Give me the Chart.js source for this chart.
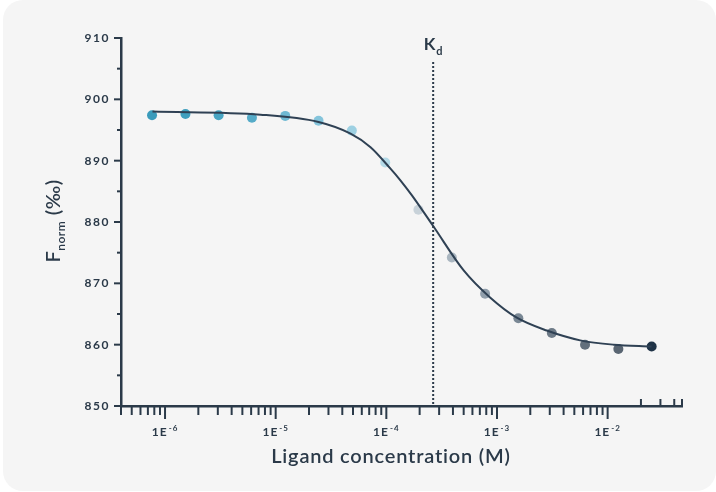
<!DOCTYPE html>
<html>
<head>
<meta charset="utf-8">
<script src="https://cdn.jsdelivr.net/npm/chart.js@4/dist/chart.umd.min.js"></script>
<style>
  html, body { margin: 0; padding: 0; background: #ffffff; }
  #wrap { width: 716px; height: 492px; }
</style>
</head>
<body>
<div id="wrap"><canvas id="kdChart" width="716" height="492"></canvas></div>
<script>
// measured points (2-fold dilution series)
var concentrations = [7.63e-7, 1.53e-6, 3.05e-6, 6.10e-6, 1.22e-5, 2.44e-5, 4.88e-5, 9.77e-5,
  1.95e-4, 3.91e-4, 7.81e-4, 1.56e-3, 3.13e-3, 6.25e-3, 1.25e-2, 2.50e-2];
var fnormValues = [897.4, 897.6, 897.4, 897.0, 897.3, 896.5, 894.9, 889.7,
  882.0, 874.2, 868.3, 864.3, 861.9, 860.0, 859.3, 859.7];

// fitted curve
var fitConcentrations = [7.7e-7, 7.3e-6, 2.44e-5, 4.75e-5, 7.2e-5, 1.09e-4, 1.34e-4, 1.71e-4,
  2.66e-4, 5.0e-4, 8.66e-4, 1.51e-3, 2.82e-3, 5.65e-3, 1.13e-2, 2.5e-2];
var fitValues = [898.0, 897.5, 896.3, 894.4, 892.2, 888.7, 886.8, 884.3,
  879.3, 872.1, 867.7, 864.4, 862.3, 860.7, 860.0, 859.7];

var kdValue = 2.65e-4;

var yTickLabels = [850, 860, 870, 880, 890, 900, 910];
var yMinorTicks = [855, 865, 875, 885, 895, 905];
var xTickExponents = [-6, -5, -4, -3, -2];

var pointColors = ['#3a9bbb', '#3f9fbe', '#48a5c3', '#55abc8', '#6fb9d3', '#84c4db', '#9dd0e2', '#b4dae8',
  '#c8d2d9', '#aab6c0', '#909eab', '#7a8895', '#6d7a87', '#626f7c', '#596572', '#1f3347'];

var ink = '#2b3a49';
var fontFam = 'Lato, "Open Sans", sans-serif';

function drawLine(ctx, x1, y1, x2, y2) {
  ctx.beginPath();
  ctx.moveTo(x1, y1);
  ctx.lineTo(x2, y2);
  ctx.stroke();
}

var cardPlugin = {
  id: 'card',
  beforeDraw: function (chart) {
    var ctx = chart.ctx;
    ctx.save();
    ctx.fillStyle = '#ffffff';
    ctx.fillRect(0, 0, chart.width, chart.height);
    ctx.fillStyle = '#f5f5f5';
    ctx.beginPath();
    ctx.roundRect(3, 0, 713, 491, 20);
    ctx.fill();
    ctx.restore();
  }
};

var axisPlugin = {
  id: 'axisDecor',
  afterDraw: function (chart) {
    var ctx = chart.ctx;
    var xs = chart.scales.x, ys = chart.scales.y;
    var area = chart.chartArea;
    ctx.save();
    ctx.strokeStyle = ink;
    ctx.fillStyle = ink;
    ctx.lineWidth = 2;

    // y ticks
    yTickLabels.forEach(function (v) {
      var py = ys.getPixelForValue(v);
      drawLine(ctx, area.left - 7, py, area.left, py);
    });
    yMinorTicks.forEach(function (v) {
      var py = ys.getPixelForValue(v);
      drawLine(ctx, area.left - 4, py, area.left, py);
    });
    ctx.font = 'bold 12px ' + fontFam;
    ctx.letterSpacing = '1.5px';
    ctx.textAlign = 'right';
    ctx.textBaseline = 'middle';
    yTickLabels.forEach(function (v) {
      ctx.fillText(String(v), area.left - 11, ys.getPixelForValue(v));
    });
    ctx.letterSpacing = '0px';

    // x ticks, log decades
    for (var d = -7; d <= -2; d++) {
      for (var m = 1; m <= 9; m++) {
        var v = m * Math.pow(10, d);
        if (v < xs.min || v > xs.max) continue;
        var px = xs.getPixelForValue(v);
        if (m === 1) drawLine(ctx, px, area.bottom, px, area.bottom + 13);
        else if (v > 1e-2) drawLine(ctx, px, area.bottom, px, area.bottom - 7);
        else drawLine(ctx, px, area.bottom, px, area.bottom + 9);
      }
    }
    drawLine(ctx, area.right, area.bottom, area.right, area.bottom - 7);

    // x labels 1E^n
    ctx.textBaseline = 'alphabetic';
    ctx.textAlign = 'left';
    xTickExponents.forEach(function (e) {
      var px = xs.getPixelForValue(Math.pow(10, e));
      ctx.font = 'bold 12px ' + fontFam;
      ctx.letterSpacing = '1px';
      var w1 = ctx.measureText('1E').width;
      ctx.font = 'bold 8px ' + fontFam;
      var sup = '-' + String(-e);
      var w2 = ctx.measureText(sup).width;
      var x0 = px - (w1 + w2 + 1) / 2;
      ctx.font = 'bold 12px ' + fontFam;
      ctx.fillText('1E', x0, 436);
      ctx.font = 'bold 8px ' + fontFam;
      ctx.fillText(sup, x0 + w1 + 1, 431);
    });
    ctx.letterSpacing = '0px';

    // Kd marker
    var kx = xs.getPixelForValue(kdValue);
    ctx.setLineDash([2, 2]);
    drawLine(ctx, kx, 62, kx, area.bottom);
    ctx.setLineDash([]);
    ctx.font = 'bold 17px ' + fontFam;
    var wk = ctx.measureText('K').width;
    ctx.font = 'bold 11px ' + fontFam;
    var wd = ctx.measureText('d').width;
    var kx0 = kx - (wk + wd + 1) / 2;
    ctx.font = 'bold 17px ' + fontFam;
    ctx.fillText('K', kx0, 50);
    ctx.font = 'bold 11px ' + fontFam;
    ctx.fillText('d', kx0 + wk + 1, 55);

    // x title
    ctx.font = '600 20px ' + fontFam;
    ctx.letterSpacing = '0.8px';
    ctx.textAlign = 'center';
    ctx.textBaseline = 'middle';
    ctx.fillText('Ligand concentration (M)', 391, 457);

    // y title, rotated
    ctx.save();
    ctx.translate(60, 221);
    ctx.rotate(-Math.PI / 2);
    ctx.textAlign = 'left';
    ctx.textBaseline = 'alphabetic';
    ctx.letterSpacing = '0.5px';
    ctx.font = '600 20px ' + fontFam;
    var wF = ctx.measureText('F').width;
    var wP = ctx.measureText(' (\u2030)').width;
    ctx.font = '600 12px ' + fontFam;
    var wN = ctx.measureText('norm').width;
    var t0 = -(wF + wN + wP) / 2;
    ctx.font = '600 20px ' + fontFam;
    ctx.fillText('F', t0, 0);
    ctx.fillText(' (\u2030)', t0 + wF + wN, 0);
    ctx.font = '600 12px ' + fontFam;
    ctx.fillText('norm', t0 + wF, 5);
    ctx.restore();

    ctx.restore();
  }
};

var curvePts = fitConcentrations.map(function (c, i) { return { x: c, y: fitValues[i] }; });
var dataPts = concentrations.map(function (c, i) { return { x: c, y: fnormValues[i] }; });

new Chart(document.getElementById('kdChart'), {
  type: 'scatter',
  data: {
    datasets: [{
      type: 'line',
      data: curvePts,
      borderColor: '#2f4154',
      borderWidth: 2,
      pointRadius: 0,
      fill: false,
      cubicInterpolationMode: 'monotone',
      order: 0
    }, {
      type: 'scatter',
      data: dataPts,
      backgroundColor: pointColors,
      borderWidth: 0,
      pointRadius: 5,
      order: 1
    }]
  },
  options: {
    responsive: false,
    devicePixelRatio: 1,
    animation: false,
    layout: { padding: { left: 0, right: 34, top: 38, bottom: 0 } },
    plugins: { legend: { display: false }, tooltip: { enabled: false } },
    scales: {
      x: {
        type: 'logarithmic',
        min: 4e-7,
        max: 4.7e-2,
        grid: { display: false },
        border: { display: true, color: ink, width: 2.5 },
        ticks: { display: false },
        afterFit: function (scale) { scale.height = 86; }
      },
      y: {
        type: 'linear',
        min: 850,
        max: 910,
        grid: { display: false },
        border: { display: true, color: ink, width: 2.5 },
        ticks: { display: false, stepSize: 10 },
        afterFit: function (scale) { scale.width = 121; }
      }
    }
  },
  plugins: [cardPlugin, axisPlugin]
});
</script>
</body>
</html>
